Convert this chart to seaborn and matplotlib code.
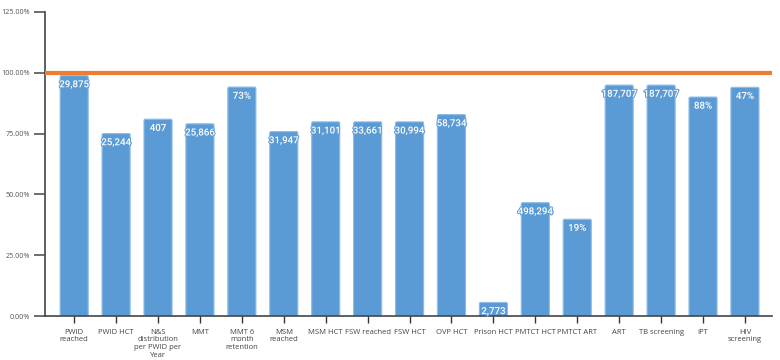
import matplotlib
matplotlib.use("Agg")
import matplotlib.pyplot as plt
import matplotlib.patheffects as pe
import seaborn as sns
import pandas as pd
from matplotlib.patches import FancyBboxPatch

# --- Data ---
CATEGORIES = ["PWID\nreached", "PWID HCT", "N&S\ndistribution\nper PWID per\nYear", "MMT",
              "MMT 6\nmonth\nretention", "MSM\nreached", "MSM HCT", "FSW reached", "FSW HCT",
              "OVP HCT", "Prison HCT", "PMTCT HCT", "PMTCT ART", "ART", "TB screening",
              "IPT", "HIV\nscreening"]
ACHIEVED_PCT = [98.8, 75.0, 80.9, 79.0, 94.1, 75.8, 79.8, 79.8, 79.8, 82.8, 5.6, 46.6,
                39.8, 94.9, 94.9, 90.0, 94.0]
BAR_LABELS = ["29,875", "25,244", "407", "25,866", "73%", "31,947", "31,101", "33,661",
              "30,994", "58,734", "2,773", "498,294", "19%", "187,707", "187,707", "88%", "47%"]
TARGET_PCT = 100
Y_TICKS = [0, 25, 50, 75, 100, 125]

BAR_COLOR = "#5B9BD5"
LINE_COLOR = "#ED7D31"

sns.set_theme(style="white")
plt.rcParams["font.family"] = ["Open Sans", "DejaVu Sans"]

df = pd.DataFrame({"indicator": CATEGORIES, "pct": ACHIEVED_PCT})

fig = plt.figure(figsize=(7.8, 3.6), dpi=100)
ax = fig.add_axes([0.058, 0.122, 0.932, 0.845])

sns.barplot(data=df, x="indicator", y="pct", color=BAR_COLOR, width=0.67,
            saturation=1, ax=ax, zorder=2)

# slightly rounded bar corners
for p in list(ax.patches):
    x, w, h = p.get_x(), p.get_width(), p.get_height()
    p.remove()
    rb = FancyBboxPatch((x, 0), w, h, boxstyle="round,pad=0,rounding_size=0.03",
                        mutation_aspect=20, facecolor=BAR_COLOR, edgecolor="#8DBDE8",
                        linewidth=0.8, zorder=2)
    ax.add_patch(rb)

for i, (v, lab) in enumerate(zip(ACHIEVED_PCT, BAR_LABELS)):
    ax.text(i, v - 1.5, lab, ha="center", va="top", color="white", fontsize=7,
            fontweight="medium", family=["Roboto", "DejaVu Sans"], zorder=3,
            path_effects=[pe.withStroke(linewidth=1.5, foreground=BAR_COLOR)])

ax.axhline(TARGET_PCT, color=LINE_COLOR, linewidth=3, zorder=4)

ax.set_xlim(-0.69, 16.65)
ax.set_ylim(0, 125)
ax.set_yticks(Y_TICKS)
ax.set_yticklabels([f"{t:.2f}%" for t in Y_TICKS])
ax.set_xlabel("")
ax.set_ylabel("")

ax.tick_params(axis="y", which="major", left=True, length=8, width=1.2, color="#555555",
               labelsize=5.2, labelcolor="#555555", pad=3)
ax.tick_params(axis="x", which="major", bottom=True, length=5, width=1, color="#333333",
               labelsize=5.5, labelcolor="#444444", pad=4)
for lbl in ax.get_xticklabels():
    lbl.set_linespacing(1.15)

for s in ["top", "right"]:
    ax.spines[s].set_visible(False)
ax.spines["left"].set_color("#444444")
ax.spines["left"].set_linewidth(1.2)
ax.spines["bottom"].set_color("#444444")
ax.spines["bottom"].set_linewidth(1.2)

fig.savefig("out.png", dpi=100)
